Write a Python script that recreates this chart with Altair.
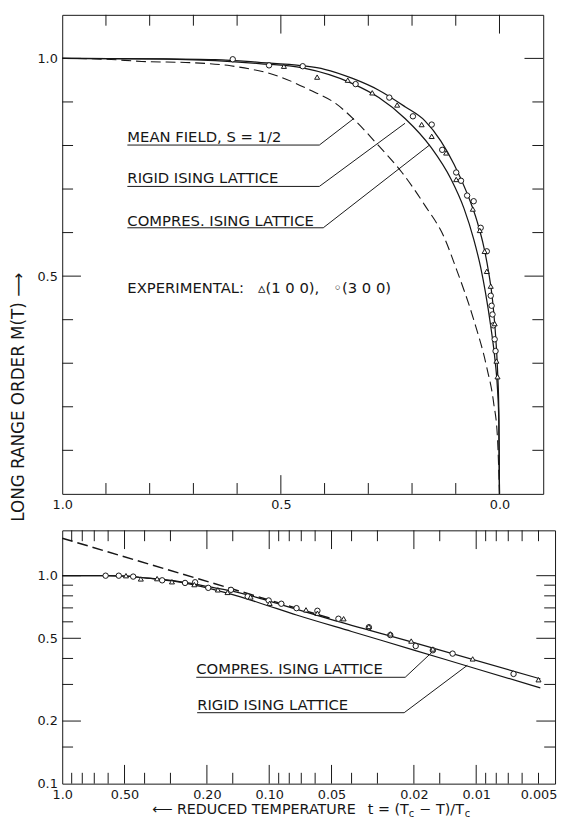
import altair as alt
import pandas as pd

FONT = "DejaVu Sans"
INK = "#161616"
NB = "\u00a0"

# ===================== upper panel (linear axes) =====================
# mean field, S = 1/2 (dashed)
mf_t = [1.0, 0.9, 0.818, 0.7, 0.615, 0.5, 0.435, 0.374, 0.333, 0.277, 0.223, 0.171, 0.126, 0.1, 0.059, 0.029, 0.0135, 0.0045, 0.0]
mf_M = [1.0, 0.998, 0.993, 0.99, 0.983, 0.957, 0.928, 0.896, 0.86, 0.80, 0.738, 0.663, 0.588, 0.52, 0.40, 0.29, 0.21, 0.127, 0.0]
# compressible Ising lattice (outer solid curve)
cmp_t = [1.0, 0.8, 0.65, 0.55, 0.45, 0.40, 0.336, 0.276, 0.216, 0.171, 0.134, 0.104, 0.074, 0.051, 0.036, 0.025, 0.017, 0.0135, 0.009, 0.0045, 0.0015, 0.0]
cmp_M = [1.0, 0.999, 0.997, 0.991, 0.983, 0.975, 0.954, 0.927, 0.889, 0.857, 0.81, 0.757, 0.69, 0.625, 0.568, 0.51, 0.455, 0.42, 0.365, 0.285, 0.19, 0.0]
# rigid Ising lattice (inner solid curve)
rig_t = [1.0, 0.8, 0.65, 0.55, 0.45, 0.336, 0.276, 0.216, 0.156, 0.111, 0.081, 0.059, 0.043, 0.032, 0.020, 0.010, 0.0045, 0.0015, 0.0]
rig_M = [1.0, 0.999, 0.995, 0.988, 0.978, 0.942, 0.91, 0.862, 0.795, 0.723, 0.655, 0.585, 0.52, 0.462, 0.385, 0.305, 0.24, 0.165, 0.0]
# experimental points: circles = (3 0 0), triangles = (1 0 0)
top_circ_t = [0.610, 0.527, 0.450, 0.329, 0.252, 0.198, 0.155, 0.131, 0.099, 0.088, 0.074, 0.059, 0.043, 0.029, 0.020, 0.018, 0.016, 0.014, 0.011, 0.009]
top_circ_M = [0.998, 0.984, 0.982, 0.941, 0.910, 0.867, 0.848, 0.790, 0.738, 0.719, 0.685, 0.672, 0.611, 0.557, 0.455, 0.432, 0.412, 0.387, 0.355, 0.328]
top_tri_t = [0.493, 0.417, 0.347, 0.291, 0.234, 0.178, 0.155, 0.122, 0.099, 0.061, 0.045, 0.034, 0.029, 0.020, 0.011, 0.007, 0.0045]
top_tri_M = [0.982, 0.957, 0.950, 0.921, 0.893, 0.848, 0.821, 0.783, 0.722, 0.654, 0.605, 0.557, 0.511, 0.477, 0.391, 0.305, 0.269]
# annotation labels (left end / baseline, data units) and leader lines
top_labels = ["MEAN FIELD, S = 1/2", "RIGID ISING LATTICE", "COMPRES. ISING LATTICE",
              "EXPERIMENTAL:" + NB * 3 + "▵(1 0 0)," + NB * 3 + "◦(3 0 0)"]
top_label_t = [0.851, 0.851, 0.851, 0.851]
top_label_M = [0.807, 0.713, 0.615, 0.462]
top_lead_id = [0, 0, 0, 1, 1, 1, 2, 2, 2]
top_lead_t = [0.851, 0.412, 0.333, 0.851, 0.412, 0.216, 0.851, 0.403, 0.160]
top_lead_M = [0.801, 0.801, 0.862, 0.706, 0.706, 0.851, 0.611, 0.611, 0.801]
# ticks / labels
top_x_labels = [1.0, 0.5, 0.0]
top_y_labels = [1.0, 0.5]
top_x_major = [0.5, 0.0]
top_x_minor = [0.9, 0.8, 0.7, 0.6, 0.4, 0.3, 0.2, 0.1]
top_y_major = [1.0, 0.5]
top_y_minor = [0.1, 0.2, 0.3, 0.4, 0.6, 0.7, 0.8, 0.9]

# ===================== lower panel (log-log axes) =====================
bcmp_t = [1.0, 0.62, 0.49, 0.42, 0.34, 0.255, 0.197, 0.153, 0.114, 0.0915, 0.05, 0.02, 0.0049]
bcmp_M = [1.0, 1.0, 0.995, 0.98, 0.962, 0.928, 0.885, 0.845, 0.785, 0.735, 0.615, 0.477, 0.319]
brig_t = [1.0, 0.62, 0.49, 0.42, 0.34, 0.255, 0.197, 0.153, 0.114, 0.0738, 0.04, 0.02, 0.01, 0.0049]
brig_M = [1.0, 1.0, 0.995, 0.98, 0.96, 0.922, 0.872, 0.815, 0.745, 0.647, 0.539, 0.439, 0.357, 0.289]
bdash_t = [1.0, 0.05]
bdash_M = [1.514, 0.622]
bot_circ_t = [0.617, 0.533, 0.454, 0.329, 0.255, 0.228, 0.197, 0.153, 0.127, 0.1006, 0.0874, 0.0738, 0.0585, 0.0463, 0.033, 0.026, 0.0196, 0.0162, 0.013, 0.0066]
bot_circ_M = [1.0, 1.0, 0.99, 0.95, 0.923, 0.93, 0.874, 0.855, 0.795, 0.76, 0.733, 0.698, 0.678, 0.621, 0.565, 0.518, 0.459, 0.438, 0.422, 0.337]
bot_tri_t = [0.492, 0.417, 0.348, 0.295, 0.23, 0.177, 0.159, 0.123, 0.0995, 0.0664, 0.0585, 0.0437, 0.033, 0.026, 0.0206, 0.0162, 0.0104, 0.005]
bot_tri_M = [1.0, 0.965, 0.968, 0.935, 0.906, 0.855, 0.831, 0.79, 0.737, 0.685, 0.66, 0.621, 0.57, 0.525, 0.485, 0.444, 0.398, 0.316]
bot_labels = ["COMPRES. ISING LATTICE", "RIGID ISING LATTICE"]
bot_label_t = [0.2251, 0.2229]
bot_label_M = [0.336, 0.2264]
bot_lead_id = [0, 0, 0, 1, 1, 1]
bot_lead_t = [0.2251, 0.02203, 0.01623, 0.2229, 0.02228, 0.01104]
bot_lead_M = [0.3247, 0.3247, 0.4315, 0.2194, 0.2194, 0.3706]
bot_x_labels = [1.0, 0.5, 0.2, 0.1, 0.05, 0.02, 0.01, 0.005]
bot_y_labels = [1.0, 0.5, 0.2, 0.1]
bot_x_major = [0.5, 0.2, 0.1, 0.05, 0.02, 0.01]
bot_x_minor = [0.9, 0.8, 0.7, 0.6, 0.4, 0.3, 0.15, 0.09, 0.08, 0.07, 0.06, 0.04, 0.03, 0.015,
               0.009, 0.008, 0.007, 0.006, 0.005]
bot_y_major = [1.0, 0.5, 0.2]
bot_y_minor = [0.9, 0.8, 0.7, 0.6, 0.4, 0.3, 0.15]

y_title = "LONG RANGE ORDER M(T) ⟶"
x_title_parts = ["⟵ REDUCED TEMPERATURE", "t = (T", "c", "− T)/T", "c"]

# ---------------------------------------------------------------------
TW, TH = 488, 486
BW, BH = 500, 257


class Panel:
    def __init__(self, xs, ys, xaxis, yaxis):
        self.xs, self.ys, self.xaxis, self.yaxis = xs, ys, xaxis, yaxis

    def X(self, f):
        return alt.X(f, scale=self.xs, axis=self.xaxis)

    def Y(self, f):
        return alt.Y(f, scale=self.ys, axis=self.yaxis)

    def curve(self, t, M, dash=None, width=1.25):
        kw = dict(color=INK, strokeWidth=width, interpolate="monotone")
        if dash:
            kw["strokeDash"] = dash
        return alt.Chart(pd.DataFrame({"t": t, "M": M})).mark_line(**kw).encode(
            x=self.X("t:Q"), y=self.Y("M:Q"))

    def points(self, t, M, shape, size):
        return alt.Chart(pd.DataFrame({"t": t, "M": M})).mark_point(
            shape=shape, size=size, filled=True, fill="white", stroke=INK, strokeWidth=1, opacity=1
        ).encode(x=self.X("t:Q"), y=self.Y("M:Q"))

    def labels(self, texts, t, M, size=15):
        return alt.Chart(pd.DataFrame({"t": t, "M": M, "s": texts})).mark_text(
            align="left", baseline="alphabetic", font=FONT, fontSize=size, color=INK
        ).encode(text="s:N", x=self.X("t:Q"), y=self.Y("M:Q"))

    def leaders(self, ids, t, M):
        df = pd.DataFrame({"id": ids, "t": t, "M": M, "i": list(range(len(ids)))})
        return alt.Chart(df).mark_line(color=INK, strokeWidth=1).encode(
            detail="id:N", order="i:Q", x=self.X("t:Q"), y=self.Y("M:Q"))

    def ticks(self, W, H, xmaj, xmin, ymaj, ymin, long_=19, short=11):
        out = []
        for vals, L in ((xmaj, long_), (xmin, short)):
            base = alt.Chart(pd.DataFrame({"t": vals})).mark_rule(color=INK, strokeWidth=1)
            out.append(base.encode(x=self.X("t:Q"), y=alt.value(H), y2=alt.value(H - L)))
            out.append(base.encode(x=self.X("t:Q"), y=alt.value(0), y2=alt.value(L)))
        for vals, L in ((ymaj, long_), (ymin, short)):
            base = alt.Chart(pd.DataFrame({"M": vals})).mark_rule(color=INK, strokeWidth=1)
            out.append(base.encode(y=self.Y("M:Q"), x=alt.value(0), x2=alt.value(L)))
            out.append(base.encode(y=self.Y("M:Q"), x=alt.value(W), x2=alt.value(W - L)))
        return out


common_axis = dict(ticks=False, tickSize=0, domain=False, grid=False, labelPadding=5,
                   labelFlush=False, labelOverlap=False, title=None,
                   labelFont=FONT, labelFontSize=13, labelColor=INK)

P1 = Panel(
    alt.Scale(domain=[-0.1, 1.0], reverse=True, nice=False, zero=False),
    alt.Scale(domain=[0.0, 1.1], nice=False, zero=False),
    alt.Axis(values=top_x_labels, format=".1f", **common_axis),
    alt.Axis(values=top_y_labels, format=".1f", **common_axis),
)

P2 = Panel(
    alt.Scale(type="log", domain=[0.00416, 1.0], reverse=True, nice=False),
    alt.Scale(type="log", domain=[0.1, 1.652], nice=False),
    alt.Axis(values=bot_x_labels,
             labelExpr="datum.value >= 1 ? '1.0' : (datum.value >= 0.01 ? format(datum.value, '.2f') : format(datum.value, '.3f'))",
             **common_axis),
    alt.Axis(values=bot_y_labels, format=".1f", **common_axis),
)

# ----- upper panel -----
top_layers = [
    P1.curve(cmp_t, cmp_M),
    P1.curve(rig_t, rig_M),
    P1.curve(mf_t, mf_M, dash=[10, 5], width=1.1),
    P1.leaders(top_lead_id, top_lead_t, top_lead_M),
    P1.labels(top_labels, top_label_t, top_label_M),
    P1.points(top_circ_t, top_circ_M, "circle", 30),
    P1.points(top_tri_t, top_tri_M, "triangle-up", 26),
    alt.Chart(pd.DataFrame({"s": [y_title]})).mark_text(
        angle=270, align="center", baseline="middle", font=FONT, fontSize=17, color=INK
    ).encode(text="s:N", x=alt.value(-44), y=alt.value(388)),
    alt.Chart(pd.DataFrame({"s": [""]})).mark_rule(opacity=0).encode(
        x=alt.value(-54), y=alt.value(100), y2=alt.value(110)),
] + P1.ticks(TW, TH, top_x_major, top_x_minor, top_y_major, top_y_minor)

top = alt.layer(*top_layers).properties(width=TW, height=TH)

# ----- lower panel -----
title_df = pd.DataFrame({
    "s": x_title_parts,
    "px": [91, 310, 351.5, 362.5, 408.5],
    "py": [288, 288, 290.5, 288, 290.5],
    "fs": [14.5, 14.5, 10, 14.5, 10],
})
x_title = alt.Chart(title_df).mark_text(align="left", baseline="alphabetic", font=FONT, color=INK).encode(
    text="s:N", x=alt.X("px:Q", scale=None), y=alt.Y("py:Q", scale=None),
    size=alt.Size("fs:Q", scale=None, legend=None))

bot_layers = [
    P2.curve(bcmp_t, bcmp_M),
    P2.curve(brig_t, brig_M),
    P2.curve(bdash_t, bdash_M, dash=[11, 5], width=1.5),
    P2.leaders(bot_lead_id, bot_lead_t, bot_lead_M),
    P2.labels(bot_labels, bot_label_t, bot_label_M),
    P2.points(bot_circ_t, bot_circ_M, "circle", 30),
    P2.points(bot_tri_t, bot_tri_M, "triangle-up", 26),
    x_title,
] + P2.ticks(BW, BH, bot_x_major, bot_x_minor, bot_y_major, bot_y_minor)

bot = alt.layer(*bot_layers).properties(width=BW, height=BH)

chart = alt.vconcat(top, bot, spacing=37, bounds="flush", padding=0).configure_view(
    stroke=INK, strokeWidth=1
)

chart.save("out.html", embed_options={"renderer": "svg", "actions": False})
